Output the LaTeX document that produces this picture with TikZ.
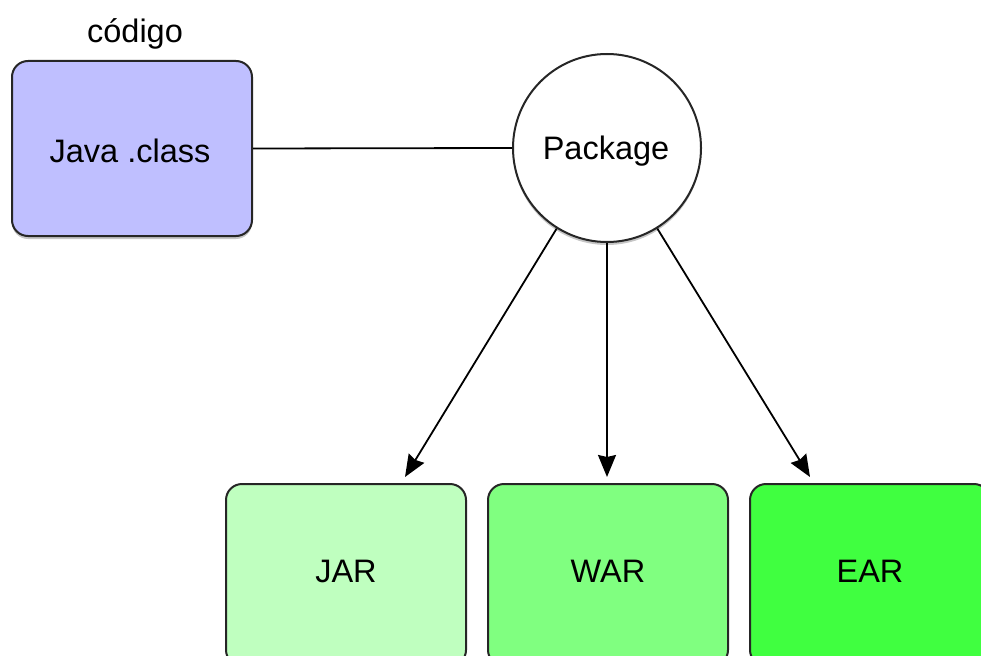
\documentclass[tikz,border=0pt]{standalone}
\usepackage{fontspec}
\setmainfont{Liberation Sans}
\usetikzlibrary{shadows,arrows.meta}
\definecolor{javafill}{RGB}{191,191,255}
\definecolor{jarfill}{RGB}{191,255,191}
\definecolor{warfill}{RGB}{128,255,128}
\definecolor{earfill}{RGB}{64,255,64}
\tikzset{
  txt/.style={font=\fontsize{32.5}{38}\selectfont},
  boxstyle/.style={draw=black!85, line width=2pt, rounded corners=16pt,
    minimum width=240pt, inner sep=0pt,
    drop shadow={shadow xshift=0pt, shadow yshift=-3pt, opacity=0.45}},
  circstyle/.style={circle, draw=black!85, line width=2pt, fill=white,
    minimum size=188pt, inner sep=0pt,
    drop shadow={shadow xshift=0pt, shadow yshift=-3pt, opacity=0.45}},
  arr/.style={line width=1.8pt, -{Stealth[length=22pt,width=18pt,inset=2pt]}},
  plain/.style={line width=1.8pt}
}
\begin{document}
\begin{tikzpicture}[x=1pt,y=-1pt]
\useasboundingbox (0,0) rectangle (981,655);
\clip (0,0) rectangle (981,655);
\node[txt] (codigo) at (135,34) {código};
\node[boxstyle, fill=javafill, minimum height=175pt] (java) at (132,148.5) {};
\node[txt] (javat) at (130,151) {Java .class};
\node[circstyle] (pkg) at (607,148) {};
\node[txt] (pkgt) at (606,151) {Package};
\node[boxstyle, fill=jarfill, minimum height=182pt] (jar) at (346,575) {};
\node[boxstyle, fill=warfill, minimum height=182pt] (war) at (608,575) {};
\node[boxstyle, fill=earfill, minimum height=182pt] (ear) at (870,575) {};
\node[txt] (jart) at (346,571) {JAR};
\node[txt] (wart) at (608,571) {WAR};
\node[txt] (eart) at (870,571) {EAR};
\draw[plain] (java.east) -- (pkg.west);
\draw[arr] (pkg.-122) -- ([xshift=59pt,yshift=6pt]jar.north);
\draw[arr] (pkg.south) -- ([xshift=-1pt,yshift=6pt]war.north);
\draw[arr] (pkg.-58) -- ([xshift=-60pt,yshift=6pt]ear.north);
\end{tikzpicture}
\end{document}
